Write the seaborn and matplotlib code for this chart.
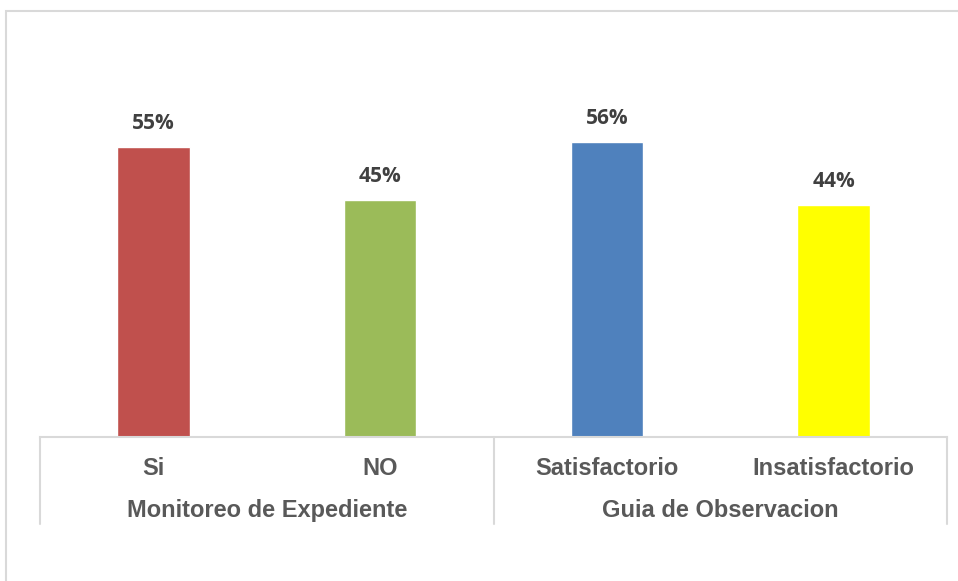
import seaborn as sns
import matplotlib.pyplot as plt
import matplotlib.patches as mpatches
import matplotlib.transforms as mtransforms
import pandas as pd

# ----------------------------
# Data
# ----------------------------
categories = ["Si", "NO", "Satisfactorio", "Insatisfactorio"]
groups = ["Monitoreo de Expediente", "Guia de Observacion"]
group_of = ["Monitoreo de Expediente", "Monitoreo de Expediente",
            "Guia de Observacion", "Guia de Observacion"]
values = [0.55, 0.45, 0.56, 0.44]
colors = ["#C0504D", "#9BBB59", "#4F81BD", "#FFFF00"]

df = pd.DataFrame({"Categoria": categories, "Grupo": group_of, "Valor": values})

# ----------------------------
# Plot
# ----------------------------
sns.set_style("white")

fig = plt.figure(figsize=(9.58, 5.81), dpi=100)
ax = fig.add_axes([40 / 958, (581 - 437) / 581, 907 / 958, 395 / 581])

sns.barplot(
    data=df,
    x="Categoria",
    y="Valor",
    hue="Categoria",
    palette=colors,
    saturation=1,
    width=0.32,
    legend=False,
    ax=ax,
)

ax.set_xlim(-0.5, 3.5)
ax.set_ylim(0, 0.75)
ax.set_xlabel("")
ax.set_ylabel("")
ax.set_yticks([])

for side in ["top", "right", "left"]:
    ax.spines[side].set_visible(False)
ax.spines["bottom"].set_color("#d9d9d9")
ax.spines["bottom"].set_linewidth(1.5)

ax.tick_params(axis="x", length=0, pad=14.5)
for lbl in ax.get_xticklabels():
    lbl.set_fontfamily("Liberation Sans")
    lbl.set_fontweight("bold")
    lbl.set_fontsize(17)
    lbl.set_color("#595959")

# data labels
for cont in ax.containers:
    ax.bar_label(cont, labels=[f"{v * 100:.0f}%" for v in cont.datavalues],
                 padding=9.5, fontsize=15, fontweight="bold",
                 color="#404040", fontfamily="Open Sans")

# group separators and group labels
trans = mtransforms.blended_transform_factory(ax.transData, ax.transAxes)
for xs in [-0.5, 1.5, 3.5]:
    ax.plot([xs, xs], [0, -0.22], transform=trans, color="#d9d9d9",
            linewidth=1.5, clip_on=False)
for i, g in enumerate(groups):
    ax.text(0.5 + 2 * i, -0.187, g, transform=trans, ha="center", va="center",
            fontsize=17, fontweight="bold", color="#595959",
            fontfamily="Liberation Sans")

# chart area border (only top/left visible in the frame)
fig.patches.append(mpatches.Rectangle(
    (6 / 958, -0.2), 1.2, (581 - 11) / 581 + 0.2,
    transform=fig.transFigure, fill=False, edgecolor="#d9d9d9", linewidth=1.5))

fig.savefig("out.png", dpi=100)
plt.close(fig)
